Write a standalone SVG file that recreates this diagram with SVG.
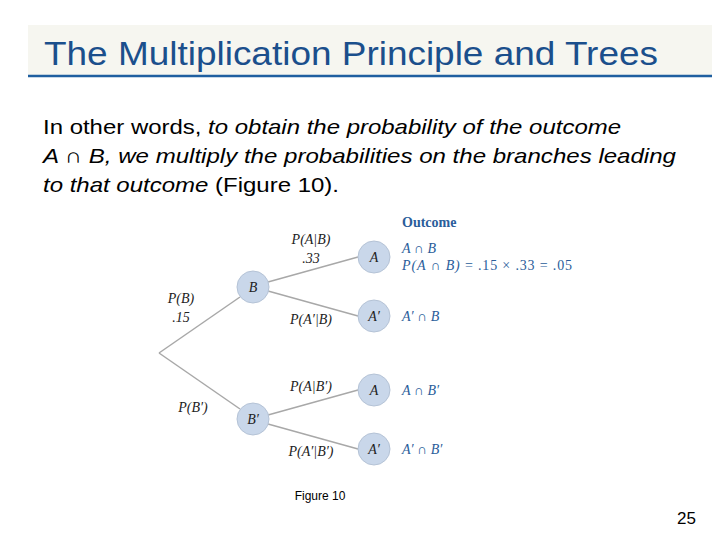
<svg xmlns="http://www.w3.org/2000/svg" width="720" height="540" viewBox="0 0 720 540">
<style>
.n{fill:#c9d7ea;stroke:#b5c3d6;stroke-width:1}
.e{stroke:#a8a8a8;stroke-width:1.5;fill:none}
.t{font-family:"Liberation Serif",serif;font-style:italic;font-size:14px;fill:#222}
.o{font-family:"Liberation Serif",serif;font-style:italic;font-size:14px;fill:#2a5d9a}
.body{font-family:"Liberation Sans",sans-serif;font-size:21px;fill:#000}
</style>
<rect x="0" y="0" width="720" height="540" fill="#fff"/>
<rect x="28" y="25" width="684" height="50" fill="#f6f6f0"/>
<line x1="28" y1="76" x2="712" y2="76" stroke="#1f5fa0" stroke-width="2.5"/>
<text x="44" y="65" font-family="Liberation Sans,sans-serif" font-size="34" fill="#1b4f8c" textLength="614" lengthAdjust="spacingAndGlyphs">The Multiplication Principle and Trees</text>
<text class="body" x="43" y="134" textLength="578" lengthAdjust="spacingAndGlyphs">In other words, <tspan font-style="italic">to obtain the probability of the outcome</tspan></text>
<text class="body" x="43" y="163" font-style="italic" textLength="633" lengthAdjust="spacingAndGlyphs">A <tspan font-style="normal">∩</tspan> B, we multiply the probabilities on the branches leading</text>
<text class="body" x="43" y="192" textLength="296" lengthAdjust="spacingAndGlyphs"><tspan font-style="italic">to that outcome</tspan> (Figure 10).</text>
<g id="connectors">
<line class="e" x1="159" y1="353" x2="240" y2="297"/>
<line class="e" x1="159" y1="353" x2="240" y2="409"/>
<line class="e" x1="268" y1="282" x2="358" y2="257"/>
<line class="e" x1="268" y1="291" x2="358" y2="316"/>
<line class="e" x1="268" y1="415" x2="358" y2="390"/>
<line class="e" x1="268" y1="424" x2="358" y2="449"/>
</g>
<g id="nB"><circle class="n" cx="253" cy="287" r="16"/><text class="t" x="253" y="292" text-anchor="middle">B</text></g>
<g id="nB2"><circle class="n" cx="253" cy="419" r="16"/><text class="t" x="253" y="424" text-anchor="middle">B′</text></g>
<g id="nA1"><circle class="n" cx="374" cy="257" r="16"/><text class="t" x="374" y="262" text-anchor="middle">A</text></g>
<g id="nA2"><circle class="n" cx="374" cy="316" r="16"/><text class="t" x="374" y="321" text-anchor="middle">A′</text></g>
<g id="nA3"><circle class="n" cx="374" cy="390" r="16"/><text class="t" x="374" y="395" text-anchor="middle">A</text></g>
<g id="nA4"><circle class="n" cx="374" cy="449" r="16"/><text class="t" x="374" y="454" text-anchor="middle">A′</text></g>
<text class="t" x="181" y="303" text-anchor="middle">P(B)</text>
<text class="t" x="181" y="322" text-anchor="middle" font-style="normal">.15</text>
<text class="t" x="193" y="412" text-anchor="middle">P(B′)</text>
<text class="t" x="311" y="244" text-anchor="middle">P(A|B)</text>
<text class="t" x="311" y="263" text-anchor="middle" font-style="normal">.33</text>
<text class="t" x="311" y="324" text-anchor="middle">P(A′|B)</text>
<text class="t" x="311" y="391" text-anchor="middle">P(A|B′)</text>
<text class="t" x="311" y="456" text-anchor="middle">P(A′|B′)</text>
<text x="402" y="227" font-family="Liberation Serif,serif" font-weight="bold" font-size="14" fill="#2a5d9a">Outcome</text>
<text class="o" x="402" y="253">A ∩ B</text>
<text class="o" x="402" y="270" textLength="170" lengthAdjust="spacing">P(A ∩ B) <tspan font-style="normal">= .15 × .33 = .05</tspan></text>
<text class="o" x="402" y="321">A′ ∩ B</text>
<text class="o" x="402" y="395">A ∩ B′</text>
<text class="o" x="402" y="454">A′ ∩ B′</text>
<text x="320" y="500" text-anchor="middle" font-family="Liberation Sans,sans-serif" font-size="12">Figure 10</text>
<text x="696" y="524" text-anchor="end" font-family="Liberation Sans,sans-serif" font-size="17">25</text>
</svg>
